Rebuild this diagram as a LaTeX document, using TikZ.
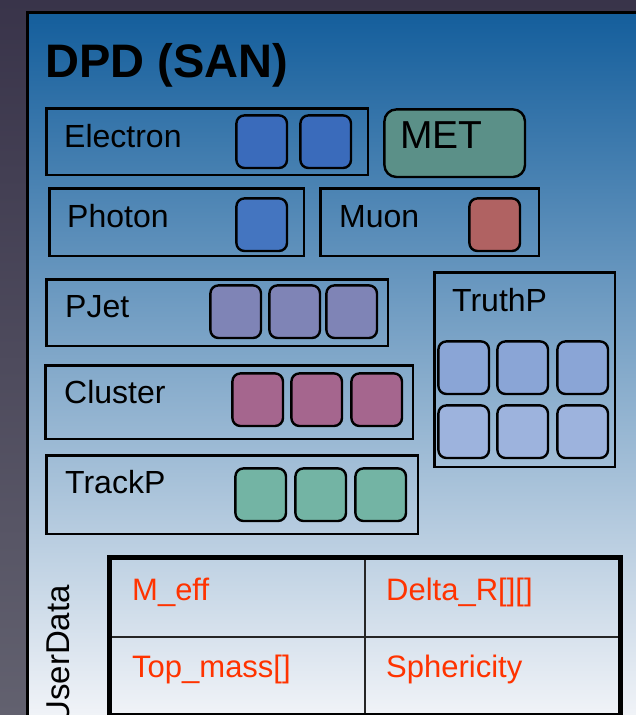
\documentclass[tikz,border=0pt]{standalone}
\usepackage{fontspec}
\setmainfont{Liberation Sans}
\begin{document}
\begin{tikzpicture}[x=1pt,y=-1pt,
  grp/.style={draw=black, line width=2.4pt, anchor=north west, inner sep=0pt},
  sq/.style={draw=black, line width=2.4pt, rounded corners=8pt, anchor=north west,
    inner sep=0pt, minimum width=50.6pt, minimum height=52.6pt},
  lbl/.style={anchor=base west, inner sep=0pt, font=\fontsize{32}{38}\selectfont},
  cell/.style={draw=black!85, line width=1.8pt, anchor=north west, inner sep=0pt},
  ulbl/.style={anchor=base west, inner sep=0pt, text=udred, font=\fontsize{31}{37}\selectfont},
]
\definecolor{bgtop}{HTML}{39344A}
\definecolor{bgbot}{HTML}{62616F}
\definecolor{pantop}{HTML}{145E9C}
\definecolor{panbot}{HTML}{F2F4F8}
\definecolor{elec}{HTML}{3A6BBB}
\definecolor{phot}{HTML}{4475C0}
\definecolor{metc}{HTML}{5B9088}
\definecolor{muon}{HTML}{B06262}
\definecolor{pjet}{HTML}{7F84B6}
\definecolor{clus}{HTML}{A5668E}
\definecolor{trkp}{HTML}{73B4A4}
\definecolor{trutha}{HTML}{8AA5D6}
\definecolor{truthb}{HTML}{9DB3DD}
\definecolor{udred}{HTML}{FF3300}

% page background and the data panel
\useasboundingbox (0,0) rectangle (636,715);
\shade[top color=bgtop, bottom color=bgbot] (0,0) rectangle (636,715);
\shade[top color=pantop, bottom color=panbot] (27,12) rectangle (640,720);
\draw[line width=3pt] (27,720) -- (27,12) -- (640,12);

\node[anchor=base west, inner sep=0pt, font=\bfseries\fontsize{47}{56}\selectfont] (title) at (45,77) {DPD (SAN)};

% Electron
\node[grp, minimum width=321.6pt, minimum height=66.6pt] (electron) at (45.2,107.2) {};
\node[lbl] (electronL) at (64,147) {Electron};
\node[sq, fill=elec] (e1) at (235.2,114.2) {};
\node[sq, fill=elec] (e2) at (299.2,114.2) {};

% MET
\node[draw=black, line width=2.4pt, rounded corners=12pt, fill=metc, anchor=north west,
  inner sep=0pt, minimum width=140.6pt, minimum height=67.6pt] (met) at (383.2,108.2) {};
\node[anchor=base west, inner sep=0pt, font=\fontsize{39}{46}\selectfont] (metL) at (400,148) {MET};

% Photon
\node[grp, minimum width=254.6pt, minimum height=67.6pt] (photon) at (48.2,187.2) {};
\node[lbl] (photonL) at (67,227) {Photon};
\node[sq, fill=phot] (p1) at (235.2,197.2) {};

% Muon
\node[grp, minimum width=218.6pt, minimum height=67.6pt] (muon) at (319.2,187.2) {};
\node[lbl] (muonL) at (339,227) {Muon};
\node[sq, fill=muon] (m1) at (468.2,197.2) {};

% PJet
\node[grp, minimum width=341.6pt, minimum height=66.6pt] (pjet) at (45.2,278.2) {};
\node[lbl] (pjetL) at (65,317) {PJet};
\node[sq, fill=pjet] (j1) at (209.2,284.2) {};
\node[sq, fill=pjet] (j2) at (268.2,284.2) {};
\node[sq, fill=pjet] (j3) at (325.2,284.2) {};

% TruthP
\node[grp, minimum width=180.6pt, minimum height=194.6pt] (truthp) at (433.2,271.2) {};
\node[lbl] (truthpL) at (452,311) {TruthP};
\node[sq, fill=trutha] (t1) at (437.2,340.2) {};
\node[sq, fill=trutha] (t2) at (496.2,340.2) {};
\node[sq, fill=trutha] (t3) at (556.2,340.2) {};
\node[sq, fill=truthb] (t4) at (437.2,404.2) {};
\node[sq, fill=truthb] (t5) at (496.2,404.2) {};
\node[sq, fill=truthb] (t6) at (556.2,404.2) {};

% Cluster
\node[grp, minimum width=367.6pt, minimum height=73.6pt] (cluster) at (44.2,364.2) {};
\node[lbl] (clusterL) at (64,403) {Cluster};
\node[sq, fill=clus] (c1) at (231.2,372.2) {};
\node[sq, fill=clus] (c2) at (290.2,372.2) {};
\node[sq, fill=clus] (c3) at (350.2,372.2) {};

% TrackP
\node[grp, minimum width=371.6pt, minimum height=78.6pt] (trackp) at (45.2,454.2) {};
\node[lbl] (trackpL) at (65,493) {TrackP};
\node[sq, fill=trkp] (k1) at (234.2,467.2) {};
\node[sq, fill=trkp] (k2) at (294.2,467.2) {};
\node[sq, fill=trkp] (k3) at (354.2,467.2) {};

% UserData table
\node[anchor=base east, rotate=90, inner sep=0pt, font=\fontsize{33}{40}\selectfont] (userdata) at (69,585) {UserData};
\node[cell, minimum width=254.5pt, minimum height=78.5pt] (u11) at (109.5,557.5) {};
\node[cell, minimum width=254.5pt, minimum height=78.5pt] (u12) at (364,557.5) {};
\node[cell, minimum width=254.5pt, minimum height=78pt] (u21) at (109.5,636) {};
\node[cell, minimum width=254.5pt, minimum height=78pt] (u22) at (364,636) {};
\draw[line width=5pt] (u11.north west) rectangle (u22.south east);
\node[ulbl] (meff) at (132,600) {M\_eff};
\node[ulbl] (deltar) at (386,600) {Delta\_R[][]};
\node[ulbl] (topmass) at (132,677) {Top\_mass[]};
\node[ulbl] (spher) at (386,677) {Sphericity};
\end{tikzpicture}
\end{document}
